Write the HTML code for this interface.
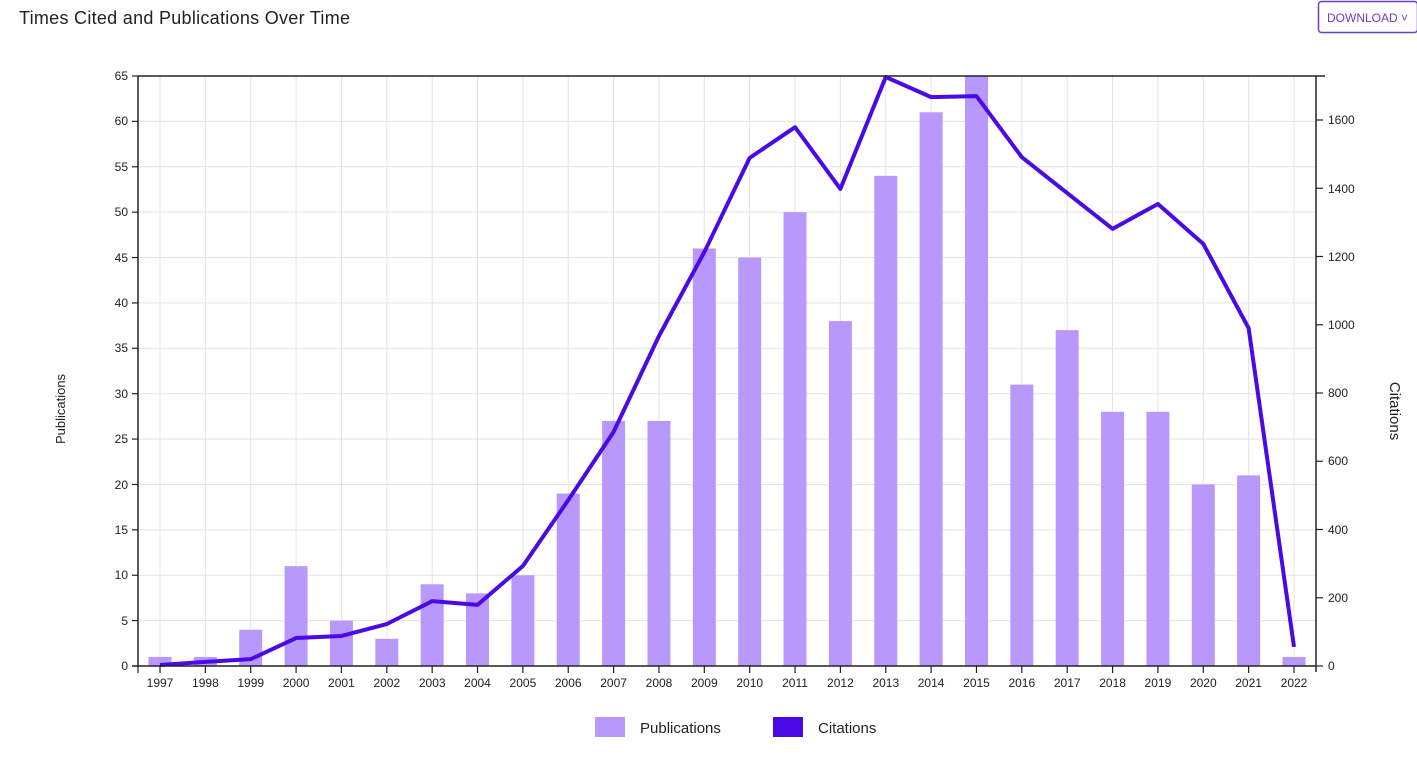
<!DOCTYPE html>
<html><head><meta charset="utf-8"><style>
body{margin:0;width:1417px;height:760px;background:#fff;overflow:hidden;font-family:"Liberation Sans",sans-serif;}
svg text{font-family:"Liberation Sans",sans-serif;fill:#222;}
</style></head><body>
<svg id="s" width="1417" height="760" xmlns="http://www.w3.org/2000/svg">
<text x="19" y="24" font-size="18" textLength="331" style="fill:#222">Times Cited and Publications Over Time</text>
<rect x="1318.5" y="1.5" width="99" height="31" rx="3" fill="#fff" stroke="#6a3fc4" stroke-width="1.5"/>
<text x="1327" y="22" font-size="12" style="fill:#6a3fc4">DOWNLOAD ˅</text>
<g id="grid"></g>
<g id="bars"></g>
<polyline id="line" fill="none" stroke="#4a0ae6" stroke-width="4" stroke-linejoin="round"/>
<g stroke="#222" stroke-width="1.5" fill="none">
<line x1="138" y1="76" x2="1325" y2="76"/>
<line x1="138" y1="76" x2="138" y2="666"/>
<line x1="1316" y1="76" x2="1316" y2="672"/>
<line x1="132" y1="666" x2="1316" y2="666"/>
</g>
<g id="ticks" stroke="#222" stroke-width="1.2"></g>
<g font-size="12" text-anchor="end">
<text x="128" y="670">0</text><text x="128" y="625">5</text><text x="128" y="579">10</text><text x="128" y="534">15</text><text x="128" y="489">20</text><text x="128" y="443">25</text><text x="128" y="398">30</text><text x="128" y="352">35</text><text x="128" y="307">40</text><text x="128" y="262">45</text><text x="128" y="216">50</text><text x="128" y="171">55</text><text x="128" y="125">60</text><text x="128" y="80">65</text>
</g>
<g font-size="12">
<text x="1328" y="670">0</text><text x="1328" y="602">200</text><text x="1328" y="534">400</text><text x="1328" y="465">600</text><text x="1328" y="397">800</text><text x="1328" y="329">1000</text><text x="1328" y="261">1200</text><text x="1328" y="193">1400</text><text x="1328" y="124">1600</text>
</g>
<g font-size="12" text-anchor="middle">
<text x="160" y="687">1997</text><text x="205.4" y="687">1998</text><text x="250.7" y="687">1999</text><text x="296.1" y="687">2000</text><text x="341.4" y="687">2001</text><text x="386.8" y="687">2002</text><text x="432.2" y="687">2003</text><text x="477.5" y="687">2004</text><text x="522.9" y="687">2005</text><text x="568.2" y="687">2006</text><text x="613.6" y="687">2007</text><text x="659" y="687">2008</text><text x="704.3" y="687">2009</text><text x="749.7" y="687">2010</text><text x="795" y="687">2011</text><text x="840.4" y="687">2012</text><text x="885.8" y="687">2013</text><text x="931.1" y="687">2014</text><text x="976.5" y="687">2015</text><text x="1021.8" y="687">2016</text><text x="1067.2" y="687">2017</text><text x="1112.6" y="687">2018</text><text x="1157.9" y="687">2019</text><text x="1203.3" y="687">2020</text><text x="1248.6" y="687">2021</text><text x="1294" y="687">2022</text>
</g>
<text transform="translate(65,409) rotate(-90)" font-size="13" text-anchor="middle">Publications</text>
<text transform="translate(1390,411) rotate(90)" font-size="15" text-anchor="middle">Citations</text>
<rect x="595" y="717" width="30" height="20" fill="#b899fb"/>
<text x="640" y="733" font-size="15">Publications</text>
<rect x="773" y="717" width="30" height="20" fill="#4a0ae6"/>
<text x="818" y="733" font-size="15">Citations</text>
</svg>
<script>
var pubs=[1,1,4,11,5,3,9,8,10,19,27,27,46,45,50,38,54,61,65,31,37,28,28,20,21,1];
var cit=[3,12,20,82,88,123,190,179,293,486,686,967,1213,1489,1579,1398,1726,1667,1670,1491,1386,1281,1354,1237,990,56];
var ns="http://www.w3.org/2000/svg";
function el(p,t,a){var e=document.createElementNS(ns,t);for(var k in a)e.setAttribute(k,a[k]);document.getElementById(p).appendChild(e);}
for(var v=5;v<=60;v+=5){var y=666-v*9.077;el('grid','line',{x1:138,x2:1316,y1:y,y2:y,stroke:'#e3e3e3'});el('ticks','line',{x1:132,x2:138,y1:y,y2:y});}
el('ticks','line',{x1:132,x2:138,y1:76,y2:76});
for(var c=0;c<=1600;c+=200){var y=666-c*0.34125;el('ticks','line',{x1:1316,x2:1323,y1:y,y2:y});}
var pts=[];
for(var i=0;i<26;i++){var x=160+i*45.36;
el('grid','line',{x1:x,x2:x,y1:76,y2:666,stroke:'#e3e3e3'});
el('ticks','line',{x1:x,x2:x,y1:666,y2:673});
var h=pubs[i]*9.077;el('bars','rect',{x:x-11.5,y:666-h,width:23,height:h,fill:'#b899fb'});
pts.push(x+','+(666-cit[i]*0.34125));}
el('ticks','line',{x1:138,x2:138,y1:666,y2:673});
document.getElementById('line').setAttribute('points',pts.join(' '));
</script>
</body></html>
